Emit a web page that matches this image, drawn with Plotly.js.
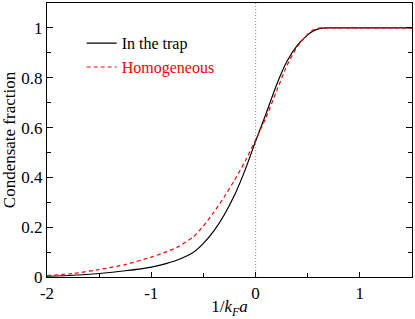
<!DOCTYPE html>
<html>
<head>
<meta charset="utf-8">
<script src="https://cdn.plot.ly/plotly-3.0.1.min.js"></script>
<style>html,body{margin:0;padding:0;background:#fff;}#plot{width:415px;height:319px;}</style>
</head>
<body>
<div id="plot"></div>
<script>
const invKFa = [-2, -1.75, -1.5, -1.25, -1, -0.85, -0.75, -0.6, -0.5, -0.4, -0.3, -0.2, -0.1, 0, 0.1, 0.2, 0.3, 0.4, 0.5, 0.56, 0.62, 0.68, 0.8, 1.0, 1.25, 1.5];
const trapFraction = [0.003, 0.007, 0.014, 0.025, 0.04, 0.055, 0.068, 0.098, 0.135, 0.185, 0.25, 0.33, 0.43, 0.545, 0.655, 0.77, 0.865, 0.93, 0.972, 0.989, 0.998, 1.0, 1.0, 1.0, 1.0, 1.0];
const homoFraction = [0.006, 0.014, 0.03, 0.05, 0.08, 0.102, 0.12, 0.16, 0.205, 0.26, 0.322, 0.39, 0.465, 0.55, 0.64, 0.745, 0.848, 0.925, 0.975, 0.993, 1.0, 1.0, 1.0, 1.0, 1.0, 1.0];
const seriesNames = ['In the trap', 'Homogeneous'];

const font = {family: '"Liberation Serif", "Times New Roman", serif', size: 17, color: '#000'};

const data = [
  {x: invKFa, y: trapFraction, mode: 'lines', name: seriesNames[0],
   line: {color: '#000', width: 1.2, shape: 'spline', smoothing: 0.6}},
  {x: invKFa, y: homoFraction, mode: 'lines', name: '<span style="color:#ff0000">' + seriesNames[1] + '</span>',
   line: {color: '#ff0000', width: 1.2, dash: '4px,3px', shape: 'spline', smoothing: 0.6}}
];

const layout = {
  width: 415, height: 319,
  margin: {l: 47, r: 3, t: 3, b: 42},
  paper_bgcolor: '#fff', plot_bgcolor: '#fff',
  font: font,
  showlegend: true,
  legend: {x: 0.095, y: 0.915, xanchor: 'left', yanchor: 'top', bgcolor: 'rgba(0,0,0,0)',
           font: {family: font.family, size: 16, color: '#000'}, itemwidth: 30, tracegroupgap: 0},
  xaxis: {
    range: [-2, 1.5], tickvals: [-2, -1, 0, 1], ticktext: ['-2', '-1', '0', '1'],
    ticks: 'inside', ticklen: 5, tickwidth: 1, tickcolor: '#000',
    minor: {tickvals: [-1.5, -0.5, 0.5], ticks: 'inside', ticklen: 4, tickcolor: '#000'},
    showline: true, linecolor: '#000', linewidth: 1.2, mirror: true,
    showgrid: false, zeroline: false,
    tickfont: {family: font.family, size: 17},
    title: {text: '1/<i>k</i><sub><i>F</i></sub><i>a</i>', font: {family: font.family, size: 17}, standoff: 5}
  },
  yaxis: {
    range: [0, 1.1], tickvals: [0, 0.2, 0.4, 0.6, 0.8, 1], ticktext: ['0', '0.2', '0.4', '0.6', '0.8', '1'],
    ticks: 'inside', ticklen: 6, tickwidth: 1, tickcolor: '#000',
    minor: {tickvals: [0.1, 0.3, 0.5, 0.7, 0.9], ticks: 'inside', ticklen: 4, tickcolor: '#000'},
    showline: true, linecolor: '#000', linewidth: 1.2, mirror: 'ticks',
    showgrid: false, zeroline: false,
    tickfont: {family: font.family, size: 17},
    title: {text: 'Condensate fraction', font: {family: font.family, size: 17}, standoff: 3}
  },
  shapes: [
    {type: 'line', xref: 'x', yref: 'paper', x0: 0, x1: 0, y0: 0, y1: 1,
     line: {color: '#999', width: 1.2, dash: '1px,2px'}, layer: 'below'}
  ]
};

Plotly.newPlot('plot', data, layout, {staticPlot: true, displayModeBar: false});
</script>
</body>
</html>
